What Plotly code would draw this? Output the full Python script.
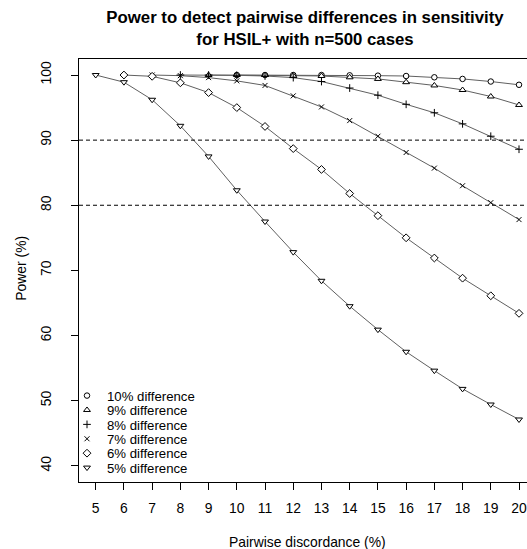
import plotly.graph_objects as go

# ---------------- data ----------------
discordance = list(range(5, 21))          # Pairwise discordance (%)
series_names = ["10% difference", "9% difference", "8% difference",
                "7% difference", "6% difference", "5% difference"]
series_start = [10, 9, 8, 7, 6, 5]        # first discordance value of each series

power_10 = [100, 100, 100, 100, 99.95, 99.9, 99.85, 99.65, 99.4, 99.0, 98.5]
power_9 = [100, 100, 100, 99.9, 99.85, 99.65, 99.4, 98.9, 98.4, 97.7, 96.7, 95.4]
power_8 = [100, 100, 99.95, 99.85, 99.6, 99.0, 98.0, 96.9, 95.5, 94.2, 92.5, 90.6, 88.6]
power_7 = [100, 99.9, 99.6, 99.1, 98.4, 96.8, 95.1, 93.0, 90.6, 88.1, 85.7, 83.0, 80.4, 77.8]
power_6 = [100, 99.8, 98.8, 97.3, 95.0, 92.1, 88.7, 85.5, 81.8, 78.4, 75.0, 71.9, 68.8, 66.1, 63.4]
power_5 = [100, 98.9, 96.2, 92.2, 87.5, 82.3, 77.5, 72.8, 68.4, 64.5, 60.9, 57.5, 54.6, 51.8, 49.4, 47.1]
power_series = [power_10, power_9, power_8, power_7, power_6, power_5]

x_ticks = list(range(5, 21))
y_ticks = [40, 50, 60, 70, 80, 90, 100]
ref_lines = [80, 90]

title_text = "Power to detect pairwise differences in sensitivity<br>for HSIL+ with n=500 cases"
x_title = "Pairwise discordance (%)"
y_title = "Power (%)"

# ---------------- styles ----------------
FONT = "Liberation Sans, Arial, sans-serif"
symbols = ["circle", "triangle-up", "cross-thin", "x-thin", "diamond", "triangle-down"]
sizes = [5.5, 6, 5.5, 5, 6, 6]
legend_rows_px = [396, 410.4, 424.8, 439.2, 453.6, 468]

W, H = 527, 549
ML, MR, MT, MB = 79, 0, 59, 67
plot_w = W - ML - MR
plot_h = H - MT - MB

fig = go.Figure()

# connecting lines first (no legend)
for name, start, vals in zip(series_names, series_start, power_series):
    xs = [d for d in discordance if d >= start]
    fig.add_trace(go.Scatter(
        x=xs, y=vals, mode="lines", showlegend=False, hoverinfo="skip",
        line=dict(color="#606060", width=1),
    ))

# markers on top, each in its own legend row
legend_layouts = {}
for i, (name, start, vals) in enumerate(zip(series_names, series_start, power_series)):
    xs = [d for d in discordance if d >= start]
    thin = symbols[i].endswith("thin")
    lg = "legend" if i == 0 else f"legend{i+1}"
    fig.add_trace(go.Scatter(
        x=xs, y=vals, name=name, mode="markers",
        marker=dict(symbol=symbols[i], size=sizes[i],
                    color="black" if thin else "white",
                    line=dict(color="black", width=1)),
        legend=lg, showlegend=True,
    ))
    legend_layouts[lg] = dict(
        x=(67 - ML) / plot_w, xanchor="left",
        y=(H - MB - legend_rows_px[i]) / plot_h, yanchor="middle",
        bgcolor="rgba(0,0,0,0)", borderwidth=0,
        font=dict(family=FONT, size=13.2, color="black"),
    )

shapes = []
for r in ref_lines:
    shapes.append(dict(type="line", xref="paper", x0=0, x1=1, yref="y", y0=r, y1=r,
                       line=dict(color="black", width=1, dash="4px,3px")))

fig.update_layout(
    width=W, height=H,
    margin=dict(l=ML, r=MR, t=MT, b=MB, pad=0),
    paper_bgcolor="white", plot_bgcolor="white",
    font=dict(family=FONT, size=13.9, color="black"),
    title=dict(text="<b>" + title_text.replace("<br>", "</b><br><b>") + "</b>",
               font=dict(family=FONT, size=16.8, color="black"),
               x=305 / W, xanchor="center", xref="container",
               y=1 - 23 / H, yanchor="top", yref="container"),
    xaxis=dict(range=[4.408, 20.283], tickvals=x_ticks, ticks="outside", ticklen=7,
               tickwidth=1, tickcolor="black", showline=True, linecolor="black",
               linewidth=1, mirror=True, showgrid=False, zeroline=False,
               tickfont=dict(family=FONT, size=13.9, color="black"),
               ticklabelstandoff=6, ticklabeloverflow="allow"),
    yaxis=dict(range=[37.5, 102.46], tickvals=y_ticks, ticks="outside", ticklen=7,
               tickwidth=1, tickcolor="black", showline=True, linecolor="black",
               linewidth=1, showgrid=False, zeroline=False, tickangle=-90,
               tickfont=dict(family=FONT, size=13.9, color="black"),
               ticklabelstandoff=14),
    shapes=shapes,
    annotations=[
        dict(text=x_title, xref="paper", yref="paper",
             x=(307 - ML) / plot_w, y=(H - MB - 541.7) / plot_h,
             xanchor="center", yanchor="middle", showarrow=False,
             font=dict(family=FONT, size=13.9, color="black")),
        dict(text=y_title, xref="paper", yref="paper",
             x=(20.7 - ML) / plot_w, y=(H - MB - 268) / plot_h,
             xanchor="center", yanchor="middle", showarrow=False, textangle=-90,
             font=dict(family=FONT, size=13.9, color="black")),
    ],
    **legend_layouts,
)

fig.write_html("out.html", config={"displayModeBar": False},
               post_script="document.body.style.margin='0';")
